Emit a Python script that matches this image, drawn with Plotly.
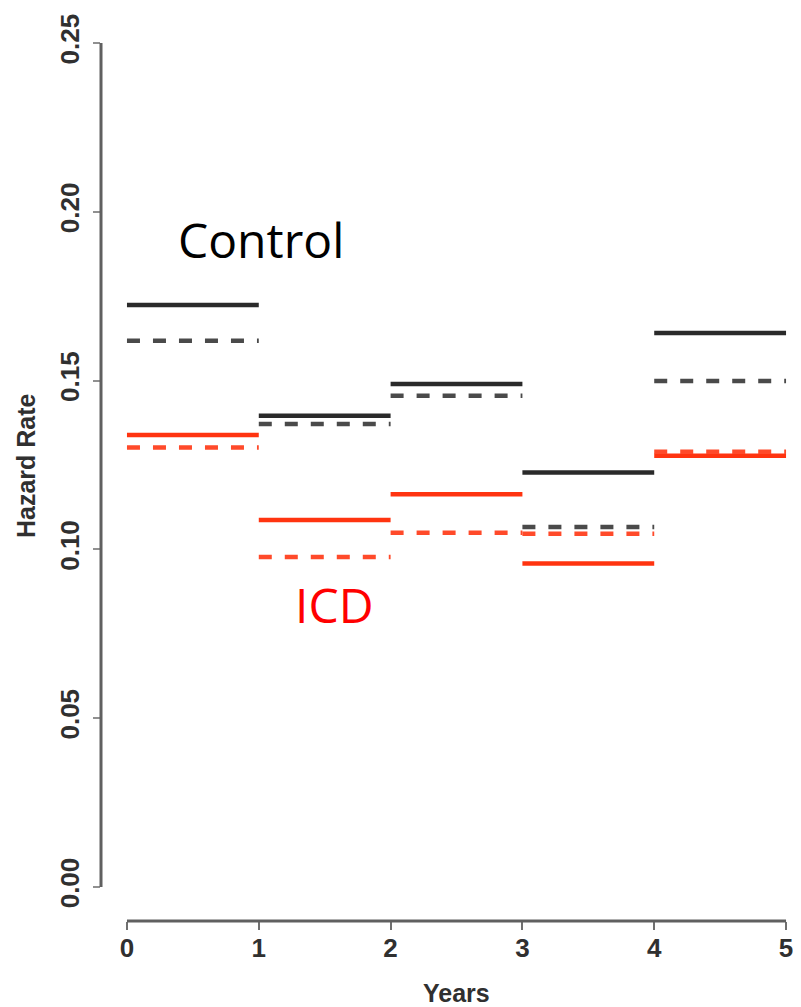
import plotly.graph_objects as go

# Interval edges (years)
years = [0, 1, 2, 3, 4, 5]

# Piecewise-constant hazard rates for each yearly interval
control_solid = [0.1724, 0.1396, 0.1490, 0.1228, 0.1641]
control_dashed = [0.1618, 0.1371, 0.1455, 0.1066, 0.1499]
icd_solid = [0.1339, 0.1087, 0.1163, 0.0958, 0.1277]
icd_dashed = [0.1302, 0.0977, 0.1049, 0.1046, 0.1289]

y_ticks = [0.00, 0.05, 0.10, 0.15, 0.20, 0.25]
y_tick_text = ["0.00", "0.05", "0.10", "0.15", "0.20", "0.25"]
x_ticks = [0, 1, 2, 3, 4, 5]


def steps(values):
    xs, ys = [], []
    for i, v in enumerate(values):
        xs += [years[i], years[i + 1], None]
        ys += [v, v, None]
    return xs, ys


series = [
    (control_solid, "#2a2a2a", "solid"),
    (control_dashed, "#4a4a4a", "13px,13px"),
    (icd_solid, "#ff3410", "solid"),
    (icd_dashed, "#ff4a2a", "13px,13px"),
]

fig = go.Figure()
for vals, col, dash in series:
    xs, ys = steps(vals)
    fig.add_trace(go.Scatter(
        x=xs, y=ys, mode="lines",
        line=dict(color=col, width=4.5, dash=dash),
        showlegend=False, hoverinfo="skip",
    ))

tick_font = dict(family="Liberation Sans, Arial, sans-serif", size=26,
                 color="#303030", weight="bold")

# page body has an 8px margin, so the figure is sized to fit the window
fig.update_layout(
    width=793, height=999,
    margin=dict(l=93, r=6, t=33, b=86),
    paper_bgcolor="white", plot_bgcolor="white",
    xaxis=dict(
        range=[-0.197, 5.068], tickvals=x_ticks,
        showgrid=False, zeroline=False, showline=False,
        ticks="outside", ticklen=8, tickwidth=2, tickcolor="#707070",
        tickfont=tick_font, ticklabelstandoff=-4,
    ),
    yaxis=dict(
        range=[-0.0101, 0.2506], tickvals=y_ticks, ticktext=y_tick_text,
        showgrid=False, zeroline=False, showline=False,
        ticks="outside", ticklen=7, tickwidth=2, tickcolor="#909090",
        tickfont=tick_font, tickangle=-90, ticklabelstandoff=4,
    ),
    shapes=[
        dict(type="line", xref="x domain", yref="y", x0=0, x1=0,
             y0=y_ticks[0], y1=y_ticks[-1],
             line=dict(color="#606060", width=3)),
        dict(type="line", xref="x", yref="y domain", x0=x_ticks[0], x1=x_ticks[-1],
             y0=0, y1=0, line=dict(color="#606060", width=3)),
    ],
    annotations=[
        dict(text="Control", xref="x", yref="y", x=1.02, y=0.1918,
             showarrow=False, xanchor="center", yanchor="middle",
             font=dict(family="Open Sans, sans-serif", size=48, color="#000000")),
        dict(text="ICD", xref="x", yref="y", x=1.57, y=0.0838,
             showarrow=False, xanchor="center", yanchor="middle",
             font=dict(family="Open Sans, sans-serif", size=48, color="#ff0000")),
        dict(text="Hazard Rate", xref="paper", yref="paper", x=0, y=0.517,
             xshift=-75, showarrow=False, textangle=-90,
             xanchor="center", yanchor="middle",
             font=dict(family="Liberation Sans, Arial, sans-serif", size=25,
                       color="#303030", weight="bold")),
        dict(text="Years", xref="x", yref="paper", x=2.5, y=0, yshift=-72,
             showarrow=False, xanchor="center", yanchor="middle",
             font=dict(family="Liberation Sans, Arial, sans-serif", size=25,
                       color="#303030", weight="bold")),
    ],
)

fig.write_html("out.html")
